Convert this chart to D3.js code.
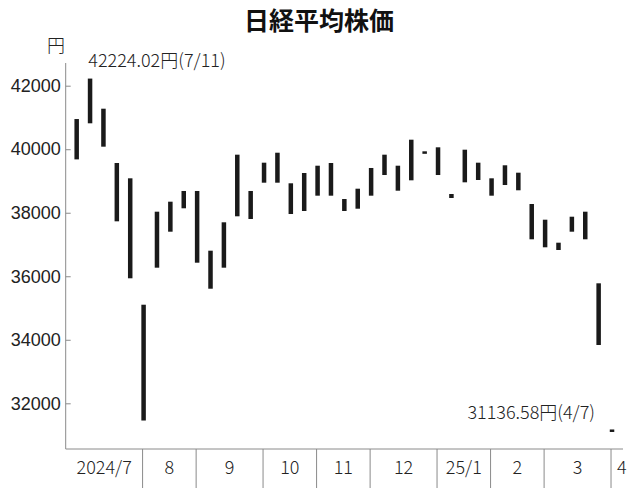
<!DOCTYPE html>
<html>
<head>
<meta charset="utf-8">
<script src="https://cdn.jsdelivr.net/npm/d3@7"></script>
<style>
  body { margin: 0; background: #fff; }
  svg { display: block; font-family: "Noto Sans CJK JP", "Noto Sans", sans-serif; }
  .lbl { font-weight: 300; }
</style>
</head>
<body>
<div id="chart"></div>
<script>
// weekly range of daily closes (low / high), week starting
var weeks = ["2024-07-01","2024-07-08","2024-07-15","2024-07-22","2024-07-29",
  "2024-08-05","2024-08-13","2024-08-19","2024-08-26",
  "2024-09-02","2024-09-09","2024-09-17","2024-09-24","2024-09-30",
  "2024-10-07","2024-10-15","2024-10-21","2024-10-28",
  "2024-11-05","2024-11-11","2024-11-18","2024-11-25",
  "2024-12-02","2024-12-09","2024-12-16","2024-12-23","2024-12-30",
  "2025-01-06","2025-01-14","2025-01-20","2025-01-27",
  "2025-02-03","2025-02-10","2025-02-17","2025-02-25",
  "2025-03-03","2025-03-10","2025-03-17","2025-03-24","2025-03-31",
  "2025-04-07"];
var lows = [39680, 40816, 40080, 37730, 35936,
  31458, 36270, 37403, 38140,
  36427, 35608, 36270, 37888, 37803,
  38946, 38946, 37960, 38055,
  38537, 38537, 38055, 38127,
  38537, 39188, 38694, 39021, 39894.54,
  39188, 38464, 38958, 39031,
  38537, 38873, 38707, 37164,
  36912, 36827, 37403, 37164, 33836,
  31136.58];
var highs = [40950, 42224.02, 41276, 39566, 39084,
  35104, 38033, 38348, 38685,
  38685, 36805, 37699, 39828, 38685,
  39576, 39890, 38927, 39251,
  39481, 39566, 38432, 38757,
  39409, 39828, 39481, 40300, 39894.54,
  40060, 38590, 39985, 39576,
  39084, 39494, 39261, 38275,
  37781, 37057, 37875, 38033, 35778,
  31136.58];

var yTicks = [32000, 34000, 36000, 38000, 40000, 42000];
var monthLabels = ["2024/7", "8", "9", "10", "11", "12", "25/1", "2", "3", "4"];
var monthStart = [0, 5, 9, 14, 18, 22, 27, 31, 35, 40]; // index of first week in month

var notes = [
  { i: 1, v: 42224.02, text: "42224.02円(7/11)" },
  { i: 40, v: 31136.58, text: "31136.58円(4/7)" }
];

var W = 638, H = 488;
var plotL = 65.7, plotR = 623, plotT = 63, plotB = 449;

var svg = d3.select("#chart").append("svg")
  .attr("width", W)
  .attr("height", H);

var x = d3.scaleBand()
  .domain(d3.range(weeks.length))
  .range([plotL, plotR])
  .paddingInner(0)
  .paddingOuter(0.32);
var cx = function(i) { return x(i) + x.bandwidth() / 2; };

var y = d3.scaleLinear()
  .domain([32000, 42000])
  .range([403.3, 85.7]);

var ink = "#1a1a1a", grey = "#8a8a8a";

// title
svg.append("text")
  .attr("x", 319).attr("y", 30)
  .attr("text-anchor", "middle")
  .style("font-size", "25px").style("font-weight", "bold")
  .style("fill", "#111")
  .text("日経平均株価");

// unit
svg.append("text")
  .attr("class", "lbl")
  .attr("x", 56).attr("y", 52)
  .attr("text-anchor", "middle")
  .style("font-size", "18px").style("fill", "#222")
  .text("円");

// y axis
var yAxis = svg.append("g")
  .attr("transform", "translate(" + plotL + ",0)")
  .call(d3.axisLeft(y).tickValues(yTicks).tickSize(-5).tickPadding(5).tickFormat(d3.format("d")));
yAxis.select(".domain").remove();
yAxis.selectAll(".tick line").attr("stroke", grey);
yAxis.selectAll(".tick text")
  .attr("class", "lbl")
  .style("font-size", "18px").style("fill", "#222")
  .style("font-family", "inherit");

// frame lines
svg.append("line")
  .attr("x1", plotL).attr("x2", plotL).attr("y1", plotT).attr("y2", plotB)
  .attr("stroke", grey).attr("stroke-width", 1);
svg.append("line")
  .attr("x1", plotL).attr("x2", plotR).attr("y1", plotB).attr("y2", plotB)
  .attr("stroke", grey).attr("stroke-width", 1);

// month separators + labels
var sepX = monthStart.map(function(i, k) { return k === 0 ? plotL : cx(i) - 1; });
svg.selectAll("line.sep")
  .data(sepX.slice(1))
  .enter().append("line")
  .attr("class", "sep")
  .attr("x1", function(d) { return d; }).attr("x2", function(d) { return d; })
  .attr("y1", plotB).attr("y2", H)
  .attr("stroke", grey).attr("stroke-width", 1);

svg.selectAll("text.month")
  .data(monthLabels)
  .enter().append("text")
  .attr("class", "month lbl")
  .attr("x", function(d, k) {
    if (k === monthLabels.length - 1) return sepX[k] + 6;
    return (sepX[k] + sepX[k + 1]) / 2;
  })
  .attr("y", 474)
  .attr("text-anchor", function(d, k) { return k === monthLabels.length - 1 ? "start" : "middle"; })
  .style("font-size", "18px").style("fill", "#222")
  .text(function(d) { return d; });

// bars: range of weekly closes
var barW = 4.5, minH = 2.5;
svg.selectAll("rect.bar")
  .data(weeks)
  .enter().append("rect")
  .attr("class", "bar")
  .attr("x", function(d, i) { return cx(i) - barW / 2; })
  .attr("width", barW)
  .attr("y", function(d, i) {
    var h = y(lows[i]) - y(highs[i]);
    return h < minH ? y(highs[i]) - minH / 2 : y(highs[i]);
  })
  .attr("height", function(d, i) { return Math.max(minH, y(lows[i]) - y(highs[i])); })
  .attr("fill", ink);

// annotations
svg.append("text")
  .attr("class", "lbl")
  .attr("x", cx(notes[0].i) - 1.7).attr("y", y(notes[0].v) - 12)
  .style("font-size", "18px").style("fill", "#222")
  .text(notes[0].text);
svg.append("text")
  .attr("class", "lbl")
  .attr("x", cx(notes[1].i) - 17).attr("y", y(notes[1].v) - 12)
  .attr("text-anchor", "end")
  .style("font-size", "18px").style("fill", "#222")
  .text(notes[1].text);
</script>
</body>
</html>
